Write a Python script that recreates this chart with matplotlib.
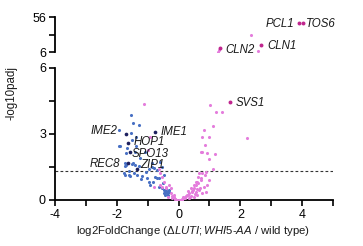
import matplotlib
matplotlib.use("Agg")
import matplotlib.pyplot as plt
from matplotlib.ticker import MultipleLocator

plt.rcParams['font.family'] = ['Liberation Sans', 'DejaVu Sans']
plt.rcParams['mathtext.fontset'] = 'custom'
plt.rcParams['mathtext.rm'] = 'Liberation Sans'
plt.rcParams['mathtext.it'] = 'Liberation Sans:italic'

# ---------------- data ----------------
# down-regulated genes (blue), lower panel
down_x = [-1.53, -1.29, -1.46, -1.54, -1.92, -1.38, -1.92, -1.38, -1.69, -1.41, -1.10,
          -1.72, -1.47, -1.75, -1.70, -1.52, -1.40, -1.27, -1.72, -1.56, -1.34, -1.18,
          -1.07, -0.97, -0.75, -0.86, -0.69, -1.89, -1.78, -1.62, -0.91, -0.83, -0.70,
          -0.78, -0.86, -0.48, -0.37, -0.43, -0.59, -0.53, -0.48, -0.64, -0.51, -0.42,
          -0.37, -0.31, -0.48, -0.40, -0.34, -0.30, -1.02, -1.20, -1.45, -1.60, -0.95,
          -1.50, -1.66, -1.25, -0.62, -0.55, -0.45, -0.35]
down_y = [3.86, 3.41, 3.50, 3.03, 3.20, 2.88, 2.45, 2.45, 2.15, 2.20, 2.20,
          1.67, 1.67, 1.55, 1.59, 1.62, 1.58, 1.55, 1.14, 1.09, 1.14, 1.09,
          1.29, 0.83, 1.06, 1.52, 1.36, 2.45, 1.24, 1.14, 0.68, 0.80, 1.00,
          1.45, 1.70, 0.45, 0.30, 0.38, 1.74, 1.52, 1.14, 0.98, 0.76, 0.38,
          0.30, 0.45, 0.30, 0.50, 0.22, 0.35, 1.00, 0.95, 1.25, 1.30, 1.40,
          2.75, 2.35, 1.90, 0.60, 0.55, 0.25, 0.40]

# up-regulated genes (pink), lower panel
up_x = [-1.13, -0.94, -0.98, -0.80, -0.59, -0.64, -0.59, -0.53, -0.48, -0.42,
        -0.53, -0.31, -0.26, -0.20, -0.15, -0.10, -0.04, 0.00, 0.05, 0.10, 0.17,
        0.25, 0.34, 0.42, 0.50, 0.58, 0.64, 0.72, 0.34, 0.50, 0.61, 0.77, 0.88,
        0.66, 0.82, 0.93, 0.99, 0.77, 0.88, 0.61, 0.66, 0.72, 0.55, 0.50, 0.39,
        0.61, 0.30, 0.20, -0.26, -0.42, -0.15, 0.82, 0.77, 1.12, 0.77, 0.99, 0.85,
        0.74, 0.93, 1.18, 0.99, 2.23, 1.02, 1.20, 1.42, 0.85, 1.10, 0.28, 0.45,
        0.38, 0.12, 0.22, 0.08, -0.08, 0.15, 0.55, 0.70, 0.46, 0.64, -0.22, -0.12,
        -0.35, 0.03, 0.30, 0.40, 0.52]
up_y = [4.36, 2.86, 2.27, 0.60, 0.68, 1.39, 1.21, 1.06, 0.83, 0.60,
        0.60, 0.68, 0.30, 0.18, 0.12, 0.03, 0.00, 0.00, 0.00, 0.00, 0.08,
        0.18, 0.30, 0.42, 0.53, 0.68, 0.79, 0.91, 0.08, 0.15, 0.23, 0.30, 0.38,
        0.45, 0.60, 0.68, 0.91, 1.21, 1.29, 0.83, 1.21, 0.98, 0.83, 0.68, 0.53,
        0.50, 0.40, 0.12, 0.53, 0.53, 0.23, 3.18, 2.88, 3.38, 2.20, 2.88, 2.50,
        2.17, 2.12, 2.09, 1.86, 2.83, 4.32, 4.00, 4.00, 1.14, 1.40, 0.22, 0.35,
        0.15, 0.05, 0.10, 0.02, 0.02, 0.12, 0.35, 0.55, 0.45, 1.05, 0.10, 0.05,
        0.15, 0.01, 0.25, 0.20, 0.28]

# up-regulated genes (pink), upper (broken) panel
up_hi_x = [2.34, 1.27, 2.57, 1.30]
up_hi_y = [31.0, 6.6, 7.8, 9.3]

# highlighted genes
hl_down_names = ['IME1', 'IME2', 'HOP1', 'SPO13', 'REC8', 'ZIP1']
hl_down_x = [-0.75, -1.70, -1.64, -1.56, -1.63, -1.34]
hl_down_y = [3.09, 3.02, 2.58, 2.20, 1.68, 1.39]

hl_up_names = ['SVS1', 'CLN2', 'CLN1', 'PCL1', 'TOS6']
hl_up_x = [1.66, 1.33, 2.67, 3.90, 4.02]
hl_up_y = [4.45, 12.2, 16.5, 48.0, 48.0]

padj_cut = 1.3

# ---------------- colours ----------------
c_blue = '#4870c4'
c_navy = '#1c1f5e'
c_pink = '#e47ddc'
c_mag = '#c0268e'
c_text = '#1a1a1a'

W, H = 363, 246
fig = plt.figure(figsize=(W / 100, H / 100), dpi=100)

axl = fig.add_axes([55 / W, (H - 200) / H, 278 / W, 132 / H])
axu = fig.add_axes([55 / W, (H - 52.3) / H, 278 / W, 34.8 / H])

for ax in (axl, axu):
    ax.set_xlim(-4, 5)
    ax.spines['top'].set_visible(False)
    ax.spines['right'].set_visible(False)
    ax.spines['left'].set_linewidth(1.3)
    ax.spines['bottom'].set_linewidth(1.3)
    ax.patch.set_alpha(0)
    ax.tick_params(axis='both', length=4.5, width=1.2, labelsize=9,
                   colors='black', pad=2)

axl.set_ylim(0, 6)
axu.set_ylim(6, 56)
axu.spines['bottom'].set_visible(False)
axu.tick_params(axis='x', bottom=False, labelbottom=False)

axl.set_xticks(range(-4, 6))
axl.set_xticklabels(['-4', '', '-2', '', '0', '', '2', '', '4', ''])
axl.set_yticks([0, 1.5, 3, 4.5, 6])
axl.set_yticklabels(['0', '', '3', '', '6'])
axu.set_yticks([6, 31, 56])
axu.set_yticklabels(['6', '', '56'])

ms = 5
axl.scatter(down_x, down_y, s=ms, color=c_blue, marker='o', linewidths=0, zorder=3)
axl.scatter(up_x, up_y, s=ms, color=c_pink, marker='o', linewidths=0, zorder=3)
axu.scatter(up_hi_x, up_hi_y, s=ms, color=c_pink, marker='o', linewidths=0, zorder=3)
axl.scatter(hl_down_x, hl_down_y, s=7, color=c_navy, marker='o', linewidths=0, zorder=4)

for x, y in zip(hl_up_x, hl_up_y):
    ax = axl if y <= 6 else axu
    ax.scatter([x], [y], s=8, color=c_mag, marker='o', linewidths=0, zorder=4)

axl.axhline(padj_cut, color='#333333', lw=0.8, ls=(0, (2.5, 2)), zorder=2)

# gene labels
lab_kw = dict(fontsize=8.3, style='italic', color=c_text, va='center', zorder=5)
axl.text(-1.98, 3.14, 'IME2', ha='right', **lab_kw)
axl.text(-0.57, 3.09, 'IME1', ha='left', **lab_kw)
axl.text(-1.46, 2.62, 'HOP1', ha='left', **lab_kw)
axl.text(-1.53, 2.08, 'SPO13', ha='left', **lab_kw)
axl.text(-1.89, 1.62, 'REC8', ha='right', **lab_kw)
axl.text(-1.24, 1.57, 'ZIP1', ha='left', **lab_kw)
axl.text(1.85, 4.41, 'SVS1', ha='left', **lab_kw)
axu.text(1.53, 9.3, 'CLN2', ha='left', **lab_kw)
axu.text(2.89, 15.0, 'CLN1', ha='left', **lab_kw)
axu.text(3.74, 46.7, 'PCL1', ha='right', **lab_kw)
axu.text(4.13, 46.7, 'TOS6', ha='left', **lab_kw)

fig.text(193 / W, (H - 231) / H,
         r'log2FoldChange ($\mathit{\Delta LUTI;WHI5}$-$\mathit{AA}$ / wild type)',
         ha='center', va='center', fontsize=8.2, color=c_text)
fig.text(12 / W, (H - 93) / H, '-log10padj', rotation=90, ha='center',
         va='center', fontsize=8.3, color=c_text)

fig.savefig('out.png', dpi=100)
